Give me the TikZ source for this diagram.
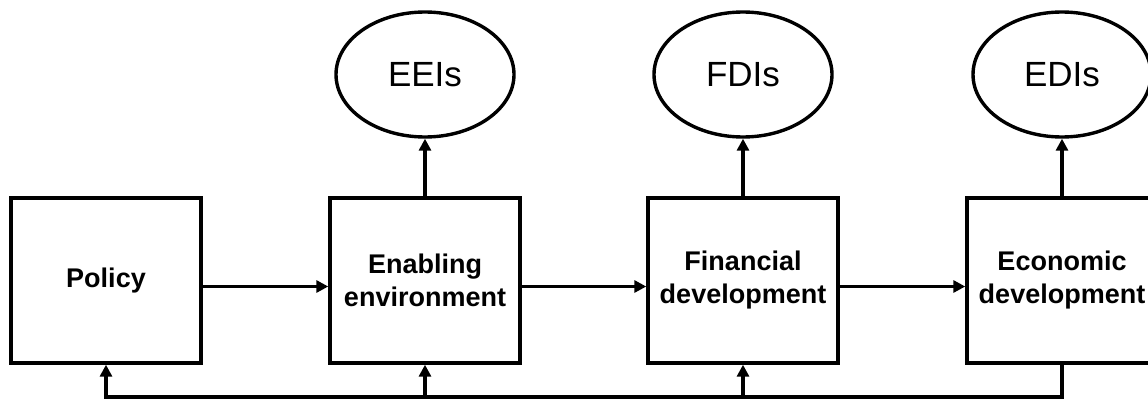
\documentclass[tikz,border=0pt]{standalone}
\usepackage{fontspec}
\setmainfont{Liberation Sans}
\usepackage{tikz}
\usetikzlibrary{shapes,arrows,arrows.meta}
\newcommand{\stagefont}{\fontsize{27}{33}\selectfont\bfseries}

\begin{document}
\begin{tikzpicture}[node distance = 318pt, auto,
    stagebox/.style={draw,line width=3.4pt,minimum width=190pt,minimum height=165pt,
        align=center,inner sep=0pt,font=\stagefont},
    indic/.style={draw,ellipse,line width=3.4pt,minimum width=178pt,minimum height=125pt,
        inner sep=0pt,font=\fontsize{35}{40}\selectfont},
    arr/.style={-{Triangle[length=12pt,width=12pt]},line width=3.4pt}]
    \useasboundingbox (0,0) rectangle (1148pt,400pt);

	\node[stagebox] (policy) at (106pt,119.5pt) {Policy};
	\node[stagebox,right of=policy,node distance=319pt] (enabling) {Enabling\\environment};
	\node[stagebox,right of=enabling] (financial) {Financial\\development};
	\node[stagebox,right of=financial,node distance=319pt] (economic) {Economic\\development};

	\node[indic,above of=enabling,node distance=206pt] (eeis) {EEIs};
	\node[indic,above of=financial,node distance=206pt] (fdis) {FDIs};
	\node[indic,above of=economic,node distance=206pt] (edis) {EDIs};

    \draw[arr] ([yshift=-6pt]policy.east) -- ([yshift=-6pt]enabling.west);
    \draw[arr] ([yshift=-6pt]enabling.east) -- ([yshift=-6pt]financial.west);
    \draw[arr] ([yshift=-6pt]financial.east) -- ([yshift=-6pt]economic.west);

    \draw[arr] (enabling) -- (eeis);
    \draw[arr] (financial) -- (fdis);
    \draw[arr] (economic) -- (edis);

	\coordinate[below of=economic,node distance=116.5pt] (loop);
    \draw[arr] (economic) -- (loop) -| (policy);
    \draw[arr] (loop) -| (enabling);
    \draw[arr] (loop) -| (financial);
\end{tikzpicture}
\end{document}
